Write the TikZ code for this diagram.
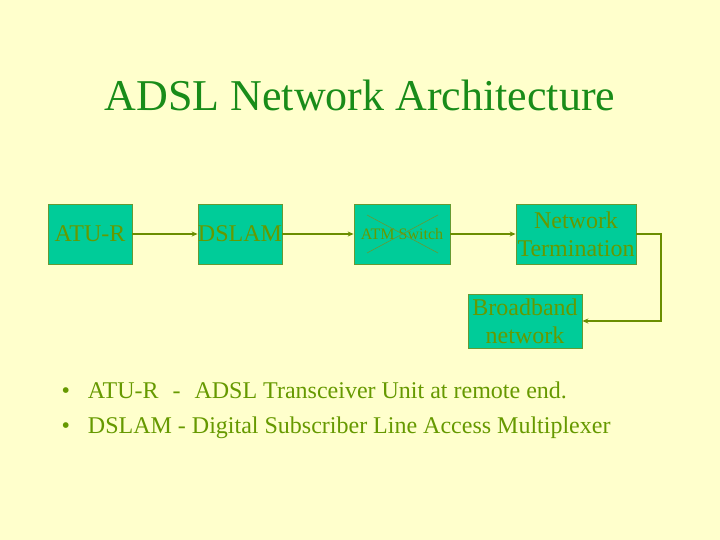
\documentclass[tikz,border=0pt]{standalone}
\usepackage{fontspec}
\setmainfont{Liberation Serif}
\usetikzlibrary{arrows.meta}
\definecolor{slidebg}{RGB}{255,255,204}
\definecolor{boxfill}{RGB}{0,204,153}
\definecolor{boxline}{RGB}{102,153,51}
\definecolor{boxtext}{RGB}{102,153,0}
\definecolor{linkcol}{RGB}{107,142,0}
\definecolor{titlecol}{RGB}{25,140,25}
\tikzset{
  netbox/.style={draw=boxline, fill=boxfill, line width=0.8pt, inner sep=0pt,
    text=boxtext, font=\fontsize{24}{28}\selectfont, align=center},
  link/.style={draw=linkcol, line width=1.2pt, -{Stealth[length=6pt,width=5pt]}}
}
\begin{document}
\begin{tikzpicture}[x=1pt,y=-1pt]
    \fill[slidebg] (0,0) rectangle (720,540);
    \useasboundingbox (0,0) rectangle (720,540);
    \node[text=titlecol, font=\fontsize{44}{50}\selectfont] (title) at (360,95) {ADSL Network Architecture};
    \node[netbox, minimum width=84pt, minimum height=60pt] (atur) at (90,234) {ATU-R};
    \node[netbox, minimum width=84pt, minimum height=60pt] (dslam) at (240,234) {DSLAM};
    \node[netbox, minimum width=96pt, minimum height=60pt, font=\fontsize{16}{18}\selectfont] (atm) at (402,234) {ATM Switch};
    \draw[boxline, line width=0.6pt] (367,215) -- (438,253) (367,253) -- (438,215);
    \node[netbox, minimum width=120pt, minimum height=60pt] (nt) at (576,234) {Network\\Termination};
    \node[netbox, minimum width=114pt, minimum height=54pt] (bb) at (525,321) {Broadband\\network};
    \coordinate (corner) at (661,234);
    \draw[link] (atur) -- (dslam);
    \draw[link] (dslam) -- (atm);
    \draw[link] (atm) -- (nt);
    \draw[link] (nt.east) -- (corner) |- (bb.east);
    \node[anchor=west, text=boxtext, font=\fontsize{24}{35}\selectfont, align=left] (notes) at (58,410)
      {\textbullet\hspace{18pt}ATU-R\hspace{14pt}-\hspace{14pt}ADSL Transceiver Unit at remote end.\\
       \textbullet\hspace{18pt}DSLAM - Digital Subscriber Line Access Multiplexer};
\end{tikzpicture}
\end{document}
